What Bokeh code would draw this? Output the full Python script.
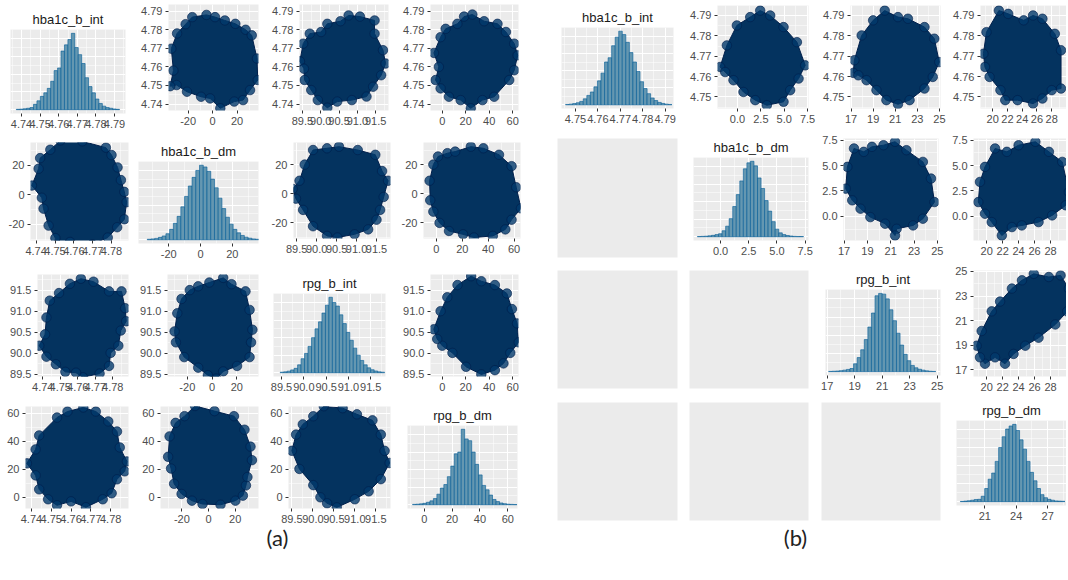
from bokeh.plotting import figure
from bokeh.layouts import row, column
from bokeh.models import Spacer, FixedTicker, NumeralTickFormatter, Label
from bokeh.embed import file_html
from bokeh.resources import INLINE

# ---------------- DATA ----------------
names = ["hba1c_b_int", "hba1c_b_dm", "rpg_b_int", "rpg_b_dm"]

# (a) histograms: bin start, bin width, counts
a_hist_start = [4.7372, -33.5, 89.47, -8.4]
a_hist_width = [0.00185, 2.35, 0.078, 2.5]
a_hist_counts_1 = [2, 3, 5, 8, 12, 30, 50, 75, 95, 120, 160, 220, 235, 330, 365, 395, 430, 350, 310, 260, 180, 130, 95, 60, 35, 20, 12, 8, 4, 2]
a_hist_counts_2 = [3, 5, 8, 14, 22, 35, 60, 95, 135, 190, 250, 310, 360, 400, 430, 420, 395, 350, 300, 240, 180, 130, 90, 60, 40, 25, 15, 9, 5, 3]
a_hist_counts_3 = [3, 5, 9, 16, 25, 45, 80, 110, 150, 200, 250, 290, 340, 385, 430, 400, 380, 330, 280, 230, 185, 140, 100, 70, 45, 28, 17, 10, 5, 3]
a_hist_counts_4 = [2, 3, 5, 8, 14, 22, 35, 60, 95, 115, 160, 220, 290, 300, 430, 375, 365, 300, 230, 170, 110, 85, 55, 30, 18, 10, 6, 3, 2, 1]

# (b) histograms
b_hist_start = [4.7456, -2.06, 17.1, 18.66]
b_hist_width = [0.00158, 0.314, 0.26, 0.333]
b_hist_counts_1 = [2, 4, 7, 12, 20, 35, 55, 75, 105, 140, 185, 250, 275, 345, 395, 430, 410, 365, 305, 250, 195, 135, 95, 65, 40, 25, 14, 8, 4, 2]
b_hist_counts_2 = [1, 2, 3, 5, 8, 12, 17, 34, 60, 103, 172, 240, 318, 387, 421, 430, 404, 335, 275, 206, 146, 86, 43, 22, 12, 7, 4, 2, 1, 1]
b_hist_counts_3 = [1, 2, 3, 5, 8, 12, 17, 43, 77, 120, 176, 245, 322, 417, 430, 426, 400, 340, 280, 211, 146, 95, 60, 34, 21, 13, 8, 4, 2, 1]
b_hist_counts_4 = [1, 3, 5, 8, 12, 13, 30, 73, 125, 159, 224, 301, 361, 404, 421, 430, 396, 344, 292, 224, 163, 116, 73, 39, 22, 13, 8, 4, 3, 2]

# (a) scatter clouds (outer draws), pair (i, j): x = variable j, y = variable i
a12_x = [-33.7, -29, -22, -16.6, -5, 2, 10, 18.6, 27, 32, 36.3, 36.9, 30.6, 24.9, 17.7, 6.3, -2, -9.4, -20.9, -29.4, -34.6, -32]
a12_y = [4.7698, 4.778, 4.783, 4.7868, 4.788, 4.7868, 4.785, 4.7832, 4.780, 4.777, 4.7645, 4.7529, 4.7475, 4.7421, 4.7413, 4.7377, 4.743, 4.7439, 4.7466, 4.7502, 4.7496, 4.758]
a13_x = [89.43, 89.52, 89.70, 90.01, 90.18, 90.54, 90.76, 91.07, 91.47, 91.47, 91.70, 91.77, 91.65, 91.43, 91.25, 90.85, 90.45, 90.18, 89.92, 89.74, 89.56, 89.54]
a13_y = [4.763, 4.7725, 4.7779, 4.7788, 4.7832, 4.7846, 4.7877, 4.7871, 4.785, 4.7779, 4.769, 4.7618, 4.7555, 4.7493, 4.744, 4.7421, 4.7413, 4.738, 4.7421, 4.7475, 4.7529, 4.759]
a14_x = [-7.1, -1.4, 2.9, 12.9, 18.6, 25.7, 35.7, 47.1, 54.3, 61.4, 64.3, 61.4, 57.1, 44.3, 34.3, 24.3, 15.7, 5.7, -1.4, -5.7, -2.9]
a14_y = [4.7675, 4.776, 4.7805, 4.7832, 4.7871, 4.7882, 4.7846, 4.7832, 4.7788, 4.7725, 4.7662, 4.7582, 4.7529, 4.7439, 4.7421, 4.7377, 4.7421, 4.7439, 4.7484, 4.7529, 4.76]
a23_x = [89.4, 89.57, 89.7, 89.91, 90.26, 90.56, 91.03, 91.47, 91.64, 91.79, 91.68, 91.59, 91.5, 91.29, 90.95, 90.52, 90.26, 89.91, 89.66, 89.48]
a23_y = [3.4, 9, 20.2, 30.3, 31.5, 32.6, 30.3, 27, 15.7, 9, -2.2, -11.2, -18, -24.7, -28.1, -30.3, -29.2, -22.5, -11.2, -3.4]
a24_x = [-5.3, -2.4, 1.2, 8.5, 14.5, 26.6, 36.3, 48.4, 58.1, 61.7, 65.4, 58.1, 53.3, 43.6, 29, 20.6, 9.7, 2.4, -2.4, -4.8]
a24_y = [9, 20.2, 25.8, 28.1, 29.2, 32.6, 31.5, 27, 19.1, 4.5, -10.1, -18, -24.7, -29.2, -30.3, -28.1, -25.8, -20.2, -12.4, -4.5]
a34_x = [-7.2, -1.4, 4.3, 13, 24.6, 33.3, 44.9, 55.1, 59.4, 63.8, 65.2, 58, 52.2, 44.9, 33.3, 20.3, 8.7, 0, -4.3]
a34_y = [90.57, 91.0, 91.33, 91.62, 91.83, 91.71, 91.62, 91.42, 91.05, 90.71, 90.26, 90.01, 89.76, 89.6, 89.5, 89.68, 90.01, 90.18, 90.34]

# (b) scatter clouds (upper triangle only)
b12_x = [-1.86, -1.14, -0.07, 1.36, 2.43, 3.5, 4.93, 6.36, 7.25, 6.54, 5.64, 4.93, 3.14, 1.9, 0.64, -0.43, -1.32]
b12_y = [4.7647, 4.7753, 4.7851, 4.7892, 4.7924, 4.79, 4.7843, 4.7769, 4.7655, 4.759, 4.7533, 4.7476, 4.7459, 4.7484, 4.7524, 4.7582, 4.7622]
b13_x = [17.2, 17.3, 17.96, 19.0, 20.05, 21.25, 22.15, 23.65, 24.54, 24.99, 24.4, 23.65, 22.3, 21.25, 20.2, 19.3, 18.4, 17.66]
b13_y = [4.7618, 4.768, 4.7802, 4.7876, 4.7924, 4.7892, 4.7884, 4.7843, 4.7786, 4.7671, 4.7598, 4.7541, 4.7484, 4.7464, 4.7484, 4.7533, 4.7582, 4.7606]
b14_x = [18.74, 19.16, 20.84, 22.1, 24.2, 25.47, 26.74, 28.42, 29.26, 29.26, 28.0, 26.74, 25.47, 23.37, 21.7, 21.05, 19.58, 18.95]
b14_y = [4.7712, 4.7818, 4.7924, 4.7908, 4.7876, 4.79, 4.7884, 4.781, 4.7729, 4.7541, 4.7533, 4.7492, 4.7467, 4.7484, 4.7484, 4.7533, 4.7598, 4.7647]
b23_x = [17.14, 17.28, 17.85, 18.69, 19.39, 20.38, 21.37, 22.35, 23.76, 24.46, 24.75, 23.76, 22.92, 21.51, 21.37, 20.52, 19.25, 18.41, 17.7]
b23_y = [2.73, 4.87, 6.68, 6.35, 6.84, 7.0, 7.34, 6.51, 5.36, 3.72, 1.41, -0.23, -0.89, -1.22, -1.88, -0.72, -0.07, 0.76, 1.58]
b24_x = [18.95, 19.16, 19.79, 21.05, 22.53, 24.0, 26.1, 27.8, 29.47, 30.3, 29.9, 28.2, 26.5, 24.4, 23.16, 21.9, 20.63, 19.79]
b24_y = [1.41, 3.39, 4.87, 6.68, 6.35, 7.0, 7.34, 6.35, 5.36, 2.4, 1.09, 0.1, -0.56, -0.89, -1.05, -1.88, -0.56, 0.26]
b34_x = [18.74, 19.37, 20.63, 21.68, 23.16, 24.42, 25.9, 27.79, 29.26, 30.3, 30.1, 28.6, 26.5, 24.84, 23.37, 22.3, 21.05, 19.79, 19.16]
b34_y = [18.95, 20.15, 21.75, 22.55, 23.61, 24.28, 24.81, 24.55, 24.68, 23.6, 21.75, 20.68, 19.6, 18.95, 18.28, 17.48, 18.0, 17.48, 18.0]

# tick values / label formats
a_ticks = [[4.74, 4.75, 4.76, 4.77, 4.78, 4.79], [-20, 0, 20], [89.5, 90.0, 90.5, 91.0, 91.5], [0, 20, 40, 60]]
a_fmts = ["0.00", "0", "0.0", "0"]
b_ticks = [[4.75, 4.76, 4.77, 4.78, 4.79], [0.0, 2.5, 5.0, 7.5], [17, 19, 21, 23, 25], [20, 22, 24, 26, 28]]
b_hist_ticks = [[4.75, 4.76, 4.77, 4.78, 4.79], [0.0, 2.5, 5.0, 7.5], [17, 19, 21, 23, 25], [21, 24, 27]]
b_fmts = ["0.00", "0.0", "0", "0"]

# axis ranges
a_xr = [(4.737, 4.789), (-36, 37.5), (89.42, 91.85), (-10, 65)]
a_yr = [(4.7365, 4.7936), (-31, 35.5), (89.45, 91.87), (-8, 65)]
a_hr = [(4.7341, 4.7959), (-39, 36.5), (89.32, 91.83), (-12, 67)]
b_xr = [None, (-2.14, 7.6), (16.95, 25.1), (18.35, 30.0)]
b_yr = [(4.7443, 4.7949), (-2.37, 7.66), (16.44, 25.08), None]
b_hr = [(4.7438, 4.7937), (-2.4, 7.8), (16.88, 25.24), (18.3, 28.8)]

# ---------------- STYLE / LAYOUT ----------------
FONT = "Liberation Sans"
BG = "#EBEBEB"
A_COLS = [(0, 131), (131, 261), (261, 391), (391, 521)]
B_COLS = [(553, 685), (685, 817), (817, 949), (949, 1066)]
ROWS = [(0, 131), (131, 262), (262, 393), (393, 525)]
FRAMES_A = {
    (0, 0): (10, 125, 29, 113), (0, 1): (168, 258, 4, 110), (0, 2): (299, 388, 4, 110), (0, 3): (430, 518, 4, 110),
    (1, 0): (30, 128, 142, 240), (1, 1): (138, 258, 161, 243), (1, 2): (293, 390, 142, 238), (1, 3): (423, 520, 142, 238),
    (2, 0): (37, 128, 274, 376), (2, 1): (167, 258, 274, 376), (2, 2): (273, 385, 293, 376), (2, 3): (430, 518, 274, 376),
    (3, 0): (25, 128, 406, 508), (3, 1): (160, 258, 406, 508), (3, 2): (288, 390, 406, 508), (3, 3): (407, 517, 425, 508),
}
FRAMES_B = {
    (0, 0): (561, 673, 27, 108), (0, 1): (717, 808, 5, 108), (0, 2): (850, 940, 5, 108), (0, 3): (980, 1066, 5, 108),
    (1, 0): (557, 677, 138, 257), (1, 1): (693, 808, 157, 240), (1, 2): (843, 938, 138, 240), (1, 3): (973, 1066, 138, 240),
    (2, 0): (557, 677, 270, 388), (2, 1): (689, 808, 270, 388), (2, 2): (825, 940, 289, 375), (2, 3): (973, 1066, 270, 376),
    (3, 0): (557, 677, 402, 520), (3, 1): (689, 808, 402, 520), (3, 2): (821, 940, 402, 520), (3, 3): (956, 1066, 420, 505),
}


def minors(t):
    s = t[1] - t[0]
    return [t[0] - s / 2] + [(a + b) / 2 for a, b in zip(t[:-1], t[1:])] + [t[-1] + s / 2]


def style_axis(ax, ticks, fmt):
    ax.ticker = FixedTicker(ticks=ticks, minor_ticks=minors(ticks))
    ax.formatter = NumeralTickFormatter(format=fmt)
    ax.axis_line_color = None
    ax.major_tick_line_color = "#333333"
    ax.major_tick_out = 3
    ax.major_tick_in = 0
    ax.minor_tick_line_color = None
    ax.major_label_text_font = FONT
    ax.major_label_text_font_size = "11px"
    ax.major_label_text_color = "#4D4D4D"
    ax.major_label_standoff = 2


def base_fig(col, rw, frame, xr, yr, title=None, empty=False):
    x0, x1 = col
    y0, y1 = rw
    fx0, fx1, fy0, fy1 = frame
    kw = dict(width=x1 - x0, height=y1 - y0,
              min_border_left=fx0 - x0, min_border_right=x1 - fx1,
              min_border_top=fy0 - y0, min_border_bottom=y1 - fy1,
              toolbar_location=None, output_backend="svg",
              background_fill_color=BG, border_fill_color="white",
              outline_line_color=None, x_range=xr, y_range=yr)
    if empty:
        kw.update(x_axis_type=None, y_axis_type=None)
    if title is not None:
        p = figure(title=title, **kw)
        p.title.align = "center"
        p.title.text_font = FONT
        p.title.text_font_size = "13px"
        p.title.text_font_style = "normal"
        p.title.text_color = "#1A1A1A"
        p.title.standoff = 5
    else:
        p = figure(title=None, **kw)
    if not empty:
        p.grid.grid_line_color = "white"
        p.grid.grid_line_width = 1.1
        p.grid.minor_grid_line_color = "white"
        p.grid.minor_grid_line_width = 0.5
    return p


def hist_fig(col, rw, frame, name, start, width, counts, xr, ticks, fmt):
    top = max(counts)
    p = base_fig(col, rw, frame, xr, (-0.05 * top, 1.05 * top), title=name)
    lefts = [start + i * width for i in range(len(counts))]
    rights = [l + width for l in lefts]
    p.quad(left=lefts, right=rights, bottom=0, top=counts,
           fill_color="#6497b1", line_color="#005b96", line_width=0.6)
    style_axis(p.xaxis[0], ticks, fmt)
    yt = [0, 100, 200, 300, 400]
    p.yaxis[0].ticker = FixedTicker(ticks=yt, minor_ticks=minors(yt))
    p.yaxis.visible = False
    return p


def scatter_fig(col, rw, frame, xs, ys, xr, yr, xt, yt, xf, yf):
    p = base_fig(col, rw, frame, xr, yr)
    p.patch(xs, ys, fill_color="#04335f", line_color="#011f4b", line_width=1)
    p.scatter(xs, ys, size=9.5, fill_color="#03396c", fill_alpha=0.8,
              line_color="#011f4b", line_alpha=0.9, line_width=0.7)
    style_axis(p.xaxis[0], xt, xf)
    style_axis(p.yaxis[0], yt, yf)
    return p


def empty_fig(col, rw, frame):
    return base_fig(col, rw, frame, (0, 1), (0, 1), empty=True)


a_counts = [a_hist_counts_1, a_hist_counts_2, a_hist_counts_3, a_hist_counts_4]
b_counts = [b_hist_counts_1, b_hist_counts_2, b_hist_counts_3, b_hist_counts_4]
a_pairs = {(0, 1): (a12_x, a12_y), (0, 2): (a13_x, a13_y), (0, 3): (a14_x, a14_y),
           (1, 2): (a23_x, a23_y), (1, 3): (a24_x, a24_y), (2, 3): (a34_x, a34_y)}
b_pairs = {(0, 1): (b12_x, b12_y), (0, 2): (b13_x, b13_y), (0, 3): (b14_x, b14_y),
           (1, 2): (b23_x, b23_y), (1, 3): (b24_x, b24_y), (2, 3): (b34_x, b34_y)}

rows_out = []
for i in range(4):
    figs = []
    for j in range(4):
        fr = FRAMES_A[(i, j)]
        if i == j:
            f = hist_fig(A_COLS[j], ROWS[i], fr, names[i], a_hist_start[i], a_hist_width[i],
                         a_counts[i], a_hr[i], a_ticks[i], a_fmts[i])
        else:
            if i < j:
                xs, ys = a_pairs[(i, j)]
            else:
                ys, xs = a_pairs[(j, i)]
            f = scatter_fig(A_COLS[j], ROWS[i], fr, xs, ys, a_xr[j], a_yr[i],
                            a_ticks[j], a_ticks[i], a_fmts[j], a_fmts[i])
        figs.append(column(f, spacing=0))
    figs.append(Spacer(width=B_COLS[0][0] - A_COLS[3][1], height=ROWS[i][1] - ROWS[i][0]))
    for j in range(4):
        fr = FRAMES_B[(i, j)]
        if i == j:
            f = hist_fig(B_COLS[j], ROWS[i], fr, names[i], b_hist_start[i], b_hist_width[i],
                         b_counts[i], b_hr[i], b_hist_ticks[i], b_fmts[i])
        elif i < j:
            xs, ys = b_pairs[(i, j)]
            f = scatter_fig(B_COLS[j], ROWS[i], fr, xs, ys, b_xr[j], b_yr[i],
                            b_ticks[j], b_ticks[i], b_fmts[j], b_fmts[i])
        else:
            f = empty_fig(B_COLS[j], ROWS[i], fr)
        figs.append(column(f, spacing=0))
    rows_out.append(row(*figs, spacing=0))

lab = figure(width=1066, height=31, x_range=(0, 1), y_range=(0, 1), x_axis_type=None, y_axis_type=None,
             toolbar_location=None, output_backend="svg", min_border=0, outline_line_color=None,
             background_fill_color="white", border_fill_color="white")
for txt, xpos in [("(a)", 277), ("(b)", 795)]:
    lab.add_layout(Label(x=xpos, y=19, x_units="screen", y_units="screen", text=txt,
                         text_align="center", text_baseline="middle", text_font="Lato",
                         text_font_size="22px", text_color="#222222"))

layout = column(*rows_out, lab, spacing=0)
open("out.html", "w").write(file_html(layout, INLINE))
